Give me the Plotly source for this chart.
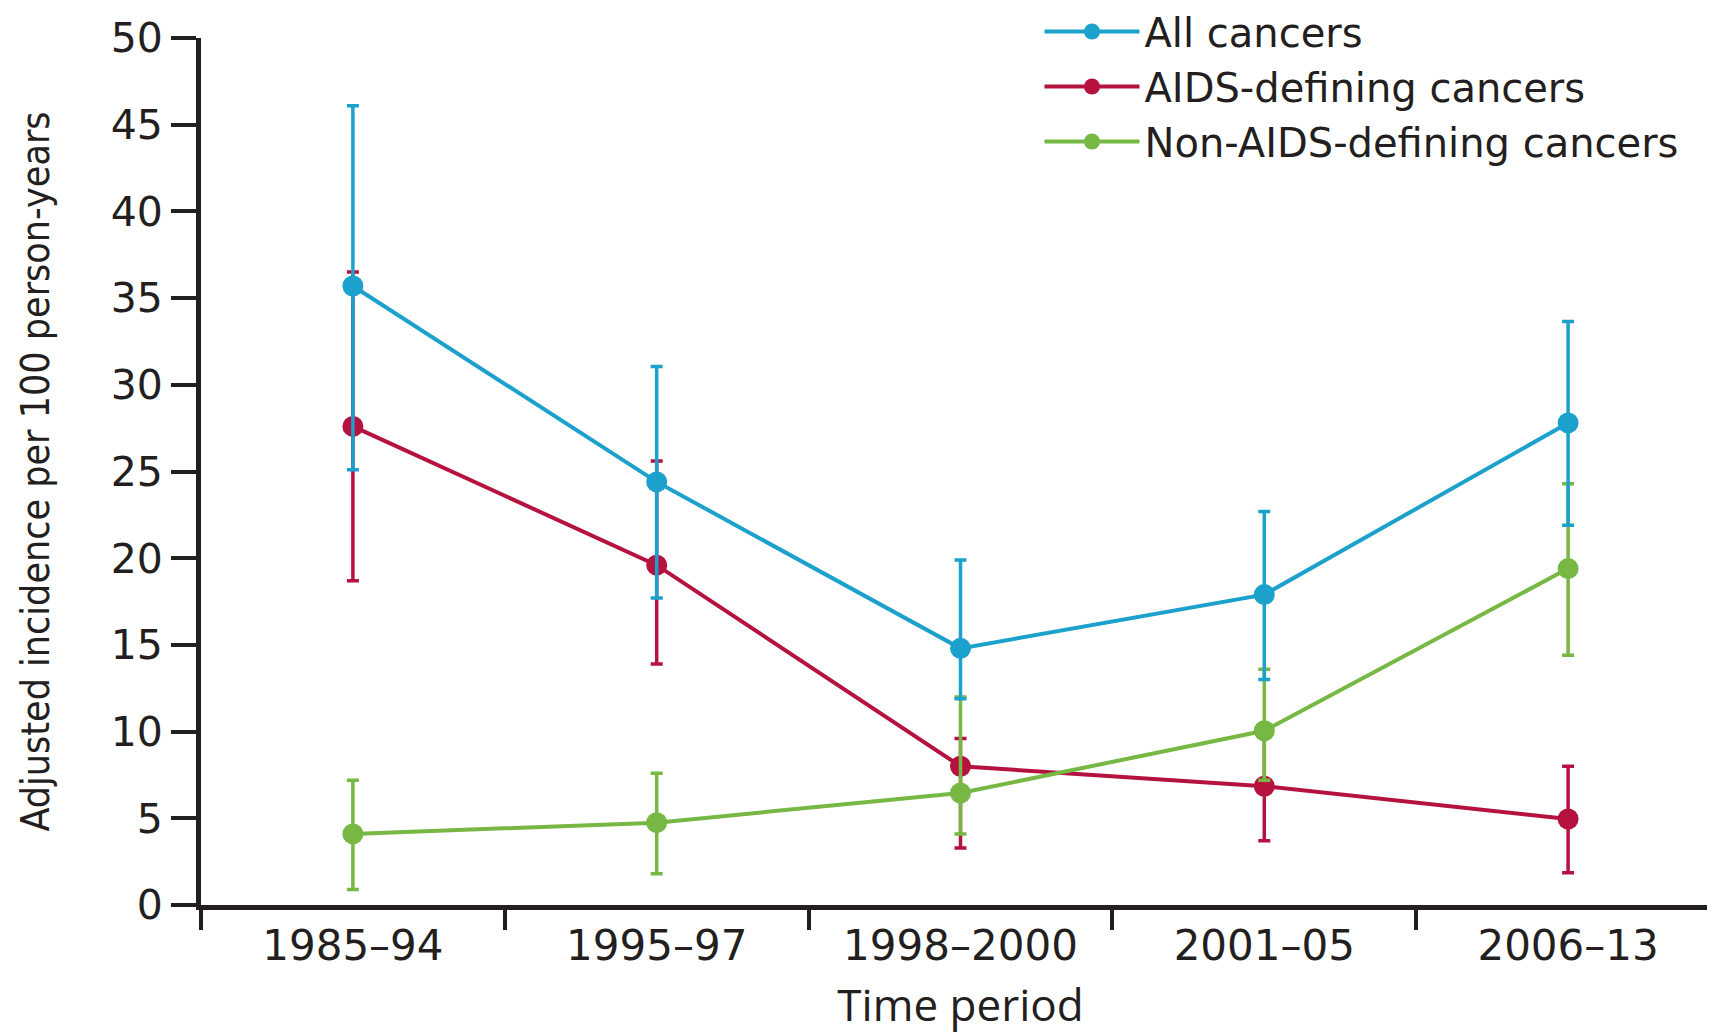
import plotly.graph_objects as go

categories = ["1985–94", "1995–97", "1998–2000", "2001–05", "2006–13"]

all_val = [35.7, 24.4, 14.8, 17.9, 27.8]
all_hi = [46.1, 31.05, 19.9, 22.7, 33.65]
all_lo = [25.1, 17.7, 11.9, 13.0, 21.9]

aids_val = [27.6, 19.6, 8.0, 6.85, 4.96]
aids_hi = [36.5, 25.6, 9.6, 9.8, 8.0]
aids_lo = [18.7, 13.9, 3.28, 3.7, 1.86]

non_val = [4.1, 4.75, 6.46, 10.05, 19.4]
non_hi = [7.2, 7.6, 12.0, 13.6, 24.3]
non_lo = [0.9, 1.8, 4.1, 7.2, 14.4]

y_ticks = [0, 5, 10, 15, 20, 25, 30, 35, 40, 45, 50]

BLUE = "#1ba1cc"
RED = "#b5123f"
GREEN = "#76b843"
INK = "#231f20"

series = [
    ("AIDS-defining cancers", aids_val, aids_hi, aids_lo, RED, 2),
    ("Non-AIDS-defining cancers", non_val, non_hi, non_lo, GREEN, 3),
    ("All cancers", all_val, all_hi, all_lo, BLUE, 1),
]

fig = go.Figure()
for name, v, hi, lo, col, rank in series:
    fig.add_trace(go.Scatter(
        x=categories, y=v, name=name, mode="lines+markers",
        line=dict(color=col, width=4),
        marker=dict(color=col, size=21),
        legendrank=rank,
        error_y=dict(type="data", symmetric=False,
                     array=[h - a for h, a in zip(hi, v)],
                     arrayminus=[a - l for l, a in zip(lo, v)],
                     color=col, thickness=3.5, width=6),
    ))

fig.update_layout(
    width=1715, height=1035,
    margin=dict(l=193, r=3, t=30, b=138, autoexpand=False),
    paper_bgcolor="white", plot_bgcolor="white",
    showlegend=True,
    legend=dict(x=0.552, y=1.045, xanchor="left", yanchor="top",
                font=dict(family="DejaVu Sans", size=40, color=INK),
                bgcolor="rgba(0,0,0,0)", itemwidth=95,
                tracegroupgap=0),
    font=dict(color=INK),
)
fig.update_xaxes(
    type="category", categoryorder="array", categoryarray=categories,
    range=[-0.5, 4.5], tickson="boundaries",
    ticks="outside", ticklen=20, tickwidth=3.5, tickcolor=INK,
    showline=True, linewidth=5, linecolor=INK, showgrid=False,
    tickfont=dict(family="DejaVu Sans", size=42, color=INK),
    title=dict(text="Time period", font=dict(family="Open Sans", size=44, color=INK), standoff=22),
)
fig.update_yaxes(
    range=[0, 50], tickvals=y_ticks,
    ticks="outside", ticklen=25, tickwidth=3.5, tickcolor=INK,
    showline=True, linewidth=5, linecolor=INK, showgrid=False, zeroline=False,
    tickfont=dict(family="DejaVu Sans", size=41, color=INK),
    title=dict(text="Adjusted incidence per 100 person-years",
               font=dict(family="DejaVu Sans Condensed, Roboto Condensed, Roboto", size=39, color=INK),
               standoff=50),
)

fig.write_html("out.html")
